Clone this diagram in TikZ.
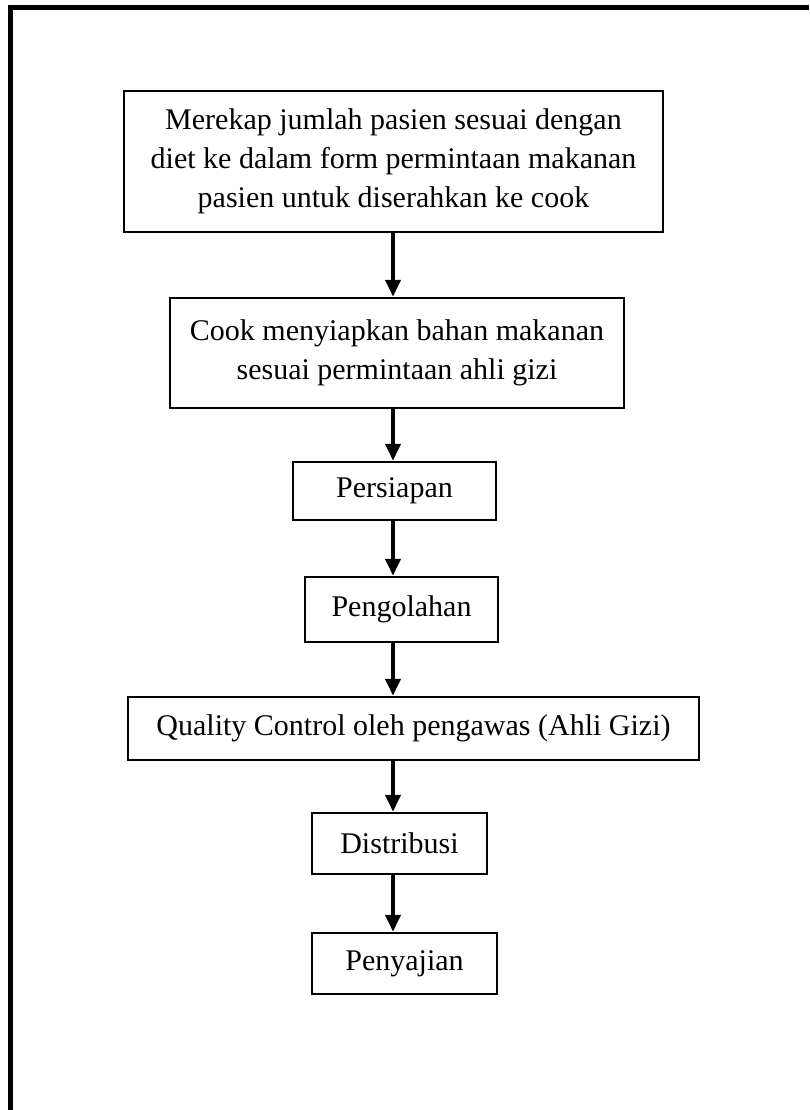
\documentclass[tikz,border=0pt]{standalone}
\usepackage{fontspec}
\setmainfont{Liberation Serif}
\usetikzlibrary{arrows.meta, calc}

\begin{document}
\begin{tikzpicture}[x=1pt,y=-1pt,
>={Triangle[width=15pt,length=17pt]},black,text=black,
box/.style={draw,line width=2.5pt,align=center,inner sep=0pt,
  font=\fontsize{30}{39}\selectfont},
flow/.style={->,line width=4pt}]

  \useasboundingbox (0,0) rectangle (809,1110);

  % \draw (0, 0) grid (809, 1110);

  % outer frame (top and left only)
  \draw[line width=5pt] (10.5,1110) -- (10.5,7.5) -- (809,7.5);

  % steps
  \node[box,minimum width=539pt,minimum height=141pt] (rekap) at (393.5,161.5)
    {Merekap jumlah pasien sesuai dengan\\diet ke dalam form permintaan makanan\\pasien untuk diserahkan ke cook};
  \node[box,minimum width=454pt,minimum height=110pt] (cook)   at (397,353)
    {Cook menyiapkan bahan makanan\\sesuai permintaan ahli gizi};
  \node[box,minimum width=203pt,minimum height=58pt]  (siap)   at (394.5,491) {Persiapan};
  \node[box,minimum width=193pt,minimum height=65pt]  (olah)   at (401.5,609.5) {Pengolahan};
  \node[box,minimum width=571pt,minimum height=63pt]  (qc)     at (413.5,728.5)
    {Quality Control oleh pengawas (Ahli Gizi)};
  \node[box,minimum width=175pt,minimum height=61pt]  (distr)  at (399.5,843.5) {Distribusi};
  \node[box,minimum width=185pt,minimum height=61pt]  (saji)   at (404.5,963.5) {Penyajian};

  % arrows, all on one vertical
  \coordinate (ax) at (393,0);
  \draw[flow] (rekap.south -| ax) -- (cook.north -| ax);
  \draw[flow] (cook.south -| ax)  -- (siap.north -| ax);
  \draw[flow] (siap.south -| ax)  -- (olah.north -| ax);
  \draw[flow] (olah.south -| ax)  -- (qc.north -| ax);
  \draw[flow] (qc.south -| ax)    -- (distr.north -| ax);
  \draw[flow] (distr.south -| ax) -- (saji.north -| ax);
\end{tikzpicture}
\end{document}
